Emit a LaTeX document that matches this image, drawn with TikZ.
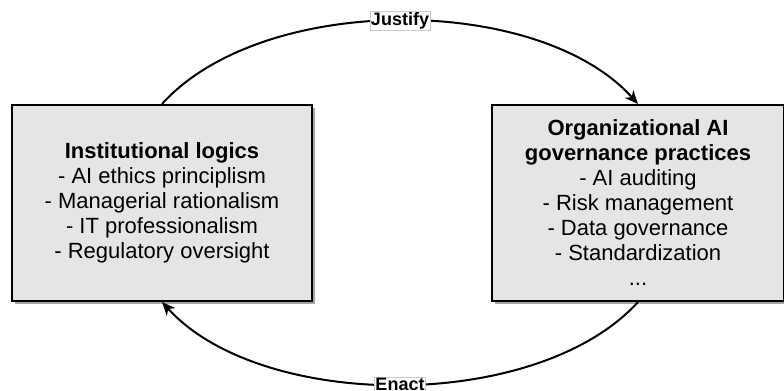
\documentclass[tikz,border=0pt]{standalone}
\usepackage{fontspec}
\setmainfont{Liberation Sans}
\usepackage{xcolor}
\usetikzlibrary{arrows.meta,positioning,shadows}

\begin{document}
\begin{tikzpicture}[
  x=0.75pt, y=-0.75pt,
  block/.style={rectangle, draw=black, line width=1.5pt, fill=black!10,
    minimum height=147pt, align=center,
    font=\fontsize{16.5}{18.75}\selectfont,
    drop shadow={shadow xshift=2.25pt, shadow yshift=-2.25pt,
      fill=black!35, opacity=1}},
  link/.style={line width=1.5pt, -{Stealth[length=10pt, width=8.5pt, inset=3pt]}},
  tag/.style={fill=white, draw=black!20, line width=0.4pt, inner sep=0.8pt,
    font=\fontsize{13.5}{14}\selectfont\bfseries},
  node distance=133.5pt
]
\useasboundingbox (0,0) rectangle (784,390);

\node[block, minimum width=225pt] (logics) at (162,203)
  {\textbf{Institutional logics}\\
   - AI ethics principlism\\
   - Managerial rationalism\\
   - IT professionalism\\
   - Regulatory oversight};
\node[block, minimum width=219pt, right=of logics] (practices)
  {\textbf{Organizational AI}\\
   \textbf{governance practices}\\
   - AI auditing\\
   - Risk management\\
   - Data governance\\
   - Standardization\\
   ...};

% Top: logics justify practices
\draw[link] (logics.north) .. controls +(100,-111) and +(-100,-111)
  .. node[tag] {Justify} (practices.north);

% Bottom: practices enact logics
\draw[link] (practices.south) .. controls +(-100,110) and +(100,110)
  .. node[tag] {Enact} (logics.south);

\end{tikzpicture}
\end{document}
